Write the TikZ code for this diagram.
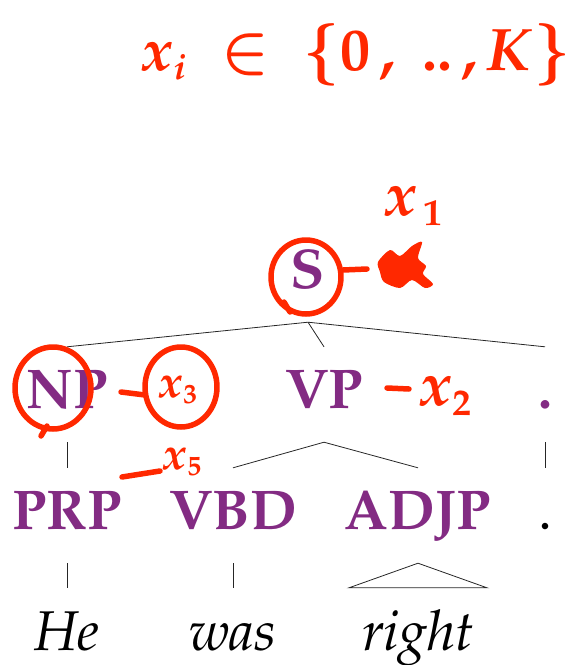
\documentclass[tikz,border=0pt]{standalone}
\usepackage[T1]{fontenc}
\usepackage{mathpazo}
\usepackage{tikz}

\definecolor{tagpurple}{RGB}{131,43,131}
\definecolor{penred}{RGB}{255,40,0}

\tikzset{
  cat/.style={anchor=base,inner sep=0pt,text height=61pt,text depth=34pt,
    text=tagpurple,font=\fontsize{56}{60}\selectfont\bfseries},
  leaf/.style={anchor=base,inner sep=0pt,text height=62pt,text depth=14pt,
    font=\fontsize{56}{60}\selectfont\itshape},
  branch/.style={line width=0.8pt,black!85},
  pen/.style={penred,line width=5.5pt,line cap=round,line join=round},
  note/.style={text=penred,inner sep=0pt,font=\fontsize{62}{62}\selectfont\boldmath},
}

\begin{document}
\begin{tikzpicture}[x=1pt,y=1pt,yscale=-1]
            \useasboundingbox (0,0) rectangle (573,665);
            \node[cat] (S) at (308,288) {S};
            \node[cat] (NP) at (67,408) {NP};
            \node[cat] (VP) at (324,408) {VP};
            \node[cat] (P1) at (545,408) {.};
            \node[cat] (PRP) at (67,529) {PRP};
            \node[cat] (VBD) at (233,529) {VBD};
            \node[cat] (ADJP) at (418,529) {ADJP};
            \node[cat,text=black,font=\fontsize{56}{60}\selectfont] (P2) at (545,529) {.};
            \node[leaf] (He) at (67,650) {He};
            \node[leaf] (was) at (233,650) {was};
            \node[leaf] (right) at (418,650) {right};
            \draw[branch] (S.south) -- (NP.north);
            \draw[branch] (S.south) -- (VP.north);
            \draw[branch] (S.south) -- (P1.north);
            \draw[branch] (NP.south) -- (PRP.north);
            \draw[branch] (VP.south) -- (VBD.north);
            \draw[branch] (VP.south) -- (ADJP.north);
            \draw[branch] (P1.south) -- (P2.north);
            \draw[branch] (PRP.south) -- (He.north);
            \draw[branch] (VBD.south) -- (was.north);
            \draw[branch] (ADJP.south) -- ([xshift=-69pt]right.north) -- ([xshift=69pt]right.north) -- cycle;
            \node[note,font=\fontsize{60}{60}\selectfont\boldmath] (xi) at (356,55) {$x_{\scriptscriptstyle i}\;\in\;\{0\,,\;..\,,K\}$};
            \node[note] (x1) at (413,206) {$x_{\scriptscriptstyle \,1}$};
            \draw[pen] (306,277) ellipse [x radius=35, y radius=37];
            \draw[pen] (290,312) -- (284,302);
            \draw[pen] (343,270) -- (367,269);
            \fill[penred] plot[smooth cycle] coordinates {(378,262) (390,250) (400,256) (412,246) (422,242) (418,258) (426,266) (423,274) (433,284) (425,288) (412,280) (400,288) (384,282) (380,272)};
            \draw[pen] (53,388) ellipse [x radius=38, y radius=41];
            \draw[pen] (47,426) -- (41,436);
            \draw[pen] (121,392) -- (145,395);
            \draw[pen] (181,387) ellipse [x radius=36, y radius=40];
            \node[note,font=\fontsize{46}{46}\selectfont\boldmath] (x3) at (178,390) {$x_{\scriptscriptstyle 3}$};
            \draw[pen] (387,388) -- (409,389);
            \node[note] (x2) at (445,396) {$x_{\scriptscriptstyle 2}$};
            \draw[pen] (122,477) -- (160,471);
            \node[note,font=\fontsize{46}{46}\selectfont\boldmath] (x5) at (182,462) {$x_{\scriptscriptstyle 5}$};
        \end{tikzpicture}
\end{document}
